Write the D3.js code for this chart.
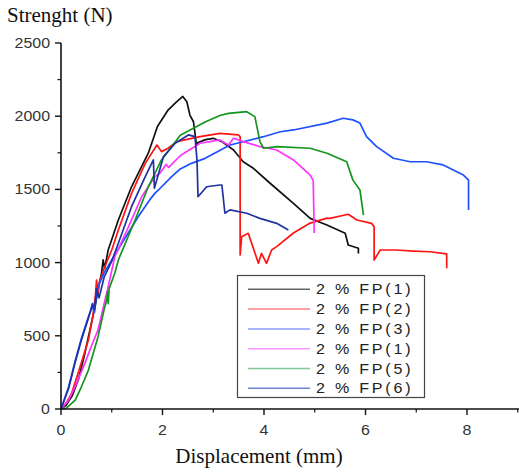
<!DOCTYPE html>
<html>
<head>
<meta charset="utf-8">
<script src="https://cdn.jsdelivr.net/npm/d3@7"></script>
<style>
  html, body { margin: 0; padding: 0; background: #fff; }
  svg { display: block; }
</style>
</head>
<body>
<script>
// ---- Data ----
const yTitle = "Strenght (N)";
const xTitle = "Displacement (mm)";
const xTicksMajor = [0, 2, 4, 6, 8];
const xTicksMinor = [1, 3, 5, 7, 9];
const yTicksMajor = [0, 500, 1000, 1500, 2000, 2500];
const yTicksMinor = [250, 750, 1250, 1750, 2250];

const seriesNames = ["2 % FP(1)", "2 % FP(2)", "2 % FP(3)", "2 % FP(1)", "2 % FP(5)", "2 % FP(6)"];

const fp1X = [0,0.1,0.22,0.34,0.45,0.57,0.67,0.75,0.8,0.83,0.86,0.93,1.13,1.39,1.72,1.9,2.11,2.25,2.4,2.48,2.54,2.61,2.67,2.7,2.85,3.0,3.17,3.4,3.59,3.79,4.12,4.58,4.91,5.24,5.6,5.66,5.86,5.86];
const fp1Y = [0,25,90,198,350,540,700,850,930,1018,960,1086,1291,1518,1747,1930,2042,2090,2135,2099,2008,1962,1803,1820,1840,1849,1826,1769,1689,1644,1542,1405,1302,1257,1200,1120,1098,1063];

const fp2X = [0,0.1,0.21,0.35,0.54,0.63,0.68,0.7,0.73,0.76,0.85,1.0,1.13,1.39,1.66,1.89,1.98,2.11,2.28,2.74,3.13,3.49,3.53,3.53,3.56,3.69,3.89,3.95,4.05,4.15,4.25,4.58,4.91,5.24,5.3,5.66,5.83,6.12,6.17,6.17,6.29,6.61,6.94,7.27,7.6,7.6];
const fp2Y = [0,40,107,260,471,640,780,881,790,870,960,1086,1223,1473,1678,1803,1758,1781,1826,1860,1883,1872,1860,1052,1177,1200,995,1063,995,1086,1109,1202,1270,1304,1302,1330,1291,1268,1245,1018,1086,1086,1079,1074,1059,961];

const fp3X = [0,0.15,0.28,0.4,0.54,0.62,0.66,0.7,0.73,0.85,1.0,1.2,1.52,1.75,1.85,1.92,2.18,2.35,2.57,2.84,3.33,3.99,4.32,4.58,5.24,5.56,5.75,5.89,6.02,6.22,6.55,6.88,7.2,7.53,7.93,8.03,8.03];
const fp3Y = [0,150,330,480,630,700,660,780,835,930,1018,1132,1313,1430,1473,1496,1587,1640,1678,1712,1803,1860,1894,1906,1953,1986,1975,1953,1860,1792,1713,1689,1689,1667,1598,1564,1359];

const fp4X = [0,0.15,0.3,0.47,0.6,0.73,0.85,0.93,1.06,1.33,1.59,1.85,1.95,2.02,2.07,2.12,2.35,2.44,2.74,3.13,3.3,3.4,3.59,3.92,4.25,4.58,4.91,4.97,4.99];
const fp4Y = [0,60,170,312,430,540,720,835,1040,1245,1450,1587,1610,1644,1670,1650,1730,1750,1815,1838,1803,1849,1826,1792,1769,1701,1598,1560,1202];

const fp5X = [0,0.1,0.28,0.4,0.54,0.73,0.85,0.9,0.92,0.93,0.95,1.06,1.13,1.46,1.72,1.98,2.35,2.84,3.13,3.3,3.66,3.82,3.92,3.99,4.25,4.91,5.24,5.63,5.75,5.89,5.96];
const fp5Y = [0,5,61,150,266,494,680,745,800,720,824,927,1018,1291,1518,1701,1870,1960,2005,2019,2031,1997,1826,1781,1792,1781,1747,1689,1565,1496,1325];

const fp6X = [0,0.15,0.28,0.4,0.54,0.62,0.66,0.7,0.75,0.85,1.0,1.13,1.39,1.66,1.82,1.84,2.02,2.25,2.51,2.64,2.68,2.7,2.87,3.13,3.17,3.23,3.33,3.66,3.92,4.25,4.48];
const fp6Y = [0,140,320,470,620,720,680,820,760,900,1010,1132,1382,1587,1701,1508,1724,1815,1872,1860,1700,1450,1518,1530,1530,1337,1360,1337,1302,1268,1223];

const seriesX = [fp1X, fp2X, fp3X, fp4X, fp5X, fp6X];
const seriesY = [fp1Y, fp2Y, fp3Y, fp4Y, fp5Y, fp6Y];
const lineColors = ["#111111", "#ff1414", "#1e50ff", "#ff33ff", "#14961e", "#1e32a0"];
const legendColors = ["#666666", "#ff8080", "#8c9cff", "#ff99ff", "#80c896", "#7080d0"];

// ---- Chart ----
const W = 519, H = 472;
const svg = d3.select("body").append("svg").attr("width", W).attr("height", H);

const x = d3.scaleLinear().domain([0, 9]).range([61, 517.75]);
const y = d3.scaleLinear().domain([0, 2500]).range([409, 43]);

const line = d3.line().x(d => x(d[0])).y(d => y(d[1]));

seriesX.forEach((xs, i) => {
  const pts = xs.map((v, j) => [v, seriesY[i][j]]);
  svg.append("path")
    .attr("d", line(pts))
    .attr("fill", "none")
    .attr("stroke", lineColors[i])
    .attr("stroke-width", 1.7)
    .attr("stroke-linejoin", "round");
});

// Axes
const axisColor = "#111";
const labelColor = "#333";
const tickFont = "Liberation Sans, Arial, sans-serif";

// Y axis
svg.append("line").attr("x1", x(0)).attr("x2", x(0)).attr("y1", y(0)).attr("y2", y(2500))
  .attr("stroke", axisColor).attr("stroke-width", 1.6);
yTicksMajor.forEach(v => {
  svg.append("line").attr("x1", x(0) - 6).attr("x2", x(0)).attr("y1", y(v)).attr("y2", y(v))
    .attr("stroke", axisColor).attr("stroke-width", 1.4);
  svg.append("text")
    .attr("transform", `translate(50,${y(v) + 5}) scale(1.1,1)`)
    .attr("text-anchor", "end")
    .attr("font-family", tickFont).attr("font-size", 14.5).attr("fill", labelColor)
    .text(v);
});
yTicksMinor.forEach(v => {
  svg.append("line").attr("x1", x(0) - 3.5).attr("x2", x(0)).attr("y1", y(v)).attr("y2", y(v))
    .attr("stroke", axisColor).attr("stroke-width", 1.2);
});

// X axis
svg.append("line").attr("x1", x(0)).attr("x2", W).attr("y1", y(0)).attr("y2", y(0))
  .attr("stroke", axisColor).attr("stroke-width", 1.6);
xTicksMajor.forEach(v => {
  svg.append("line").attr("x1", x(v)).attr("x2", x(v)).attr("y1", y(0)).attr("y2", y(0) + 6)
    .attr("stroke", axisColor).attr("stroke-width", 1.4);
  svg.append("text")
    .attr("transform", `translate(${x(v)},435) scale(1.1,1)`)
    .attr("text-anchor", "middle")
    .attr("font-family", tickFont).attr("font-size", 14.5).attr("fill", labelColor)
    .text(v);
});
xTicksMinor.forEach(v => {
  svg.append("line").attr("x1", x(v)).attr("x2", x(v)).attr("y1", y(0)).attr("y2", y(0) + 3.5)
    .attr("stroke", axisColor).attr("stroke-width", 1.2);
});

// Titles
svg.append("text").attr("x", 7).attr("y", 22)
  .attr("font-family", "Liberation Serif, Times New Roman, serif").attr("font-size", 21).attr("fill", "#111")
  .text(yTitle);
svg.append("text").attr("x", 259).attr("y", 463).attr("text-anchor", "middle")
  .attr("font-family", "Liberation Serif, Times New Roman, serif").attr("font-size", 21).attr("fill", "#111")
  .text(xTitle);

// Legend
const lg = svg.append("g");
lg.append("rect").attr("x", 237.5).attr("y", 275.5).attr("width", 187).attr("height", 122)
  .attr("fill", "#fff").attr("stroke", "#444").attr("stroke-width", 1.2);
seriesNames.forEach((name, i) => {
  const cy = 289.3 + i * 19.8;
  lg.append("line").attr("x1", 248).attr("x2", 310).attr("y1", cy).attr("y2", cy)
    .attr("stroke", legendColors[i]).attr("stroke-width", 1.5);
  lg.append("text")
    .attr("transform", `translate(316,${cy + 5}) scale(1.15,1)`)
    .attr("font-family", tickFont).attr("font-size", 14).attr("fill", "#222")
    .attr("letter-spacing", 2.4)
    .text(name);
});
</script>
</body>
</html>
